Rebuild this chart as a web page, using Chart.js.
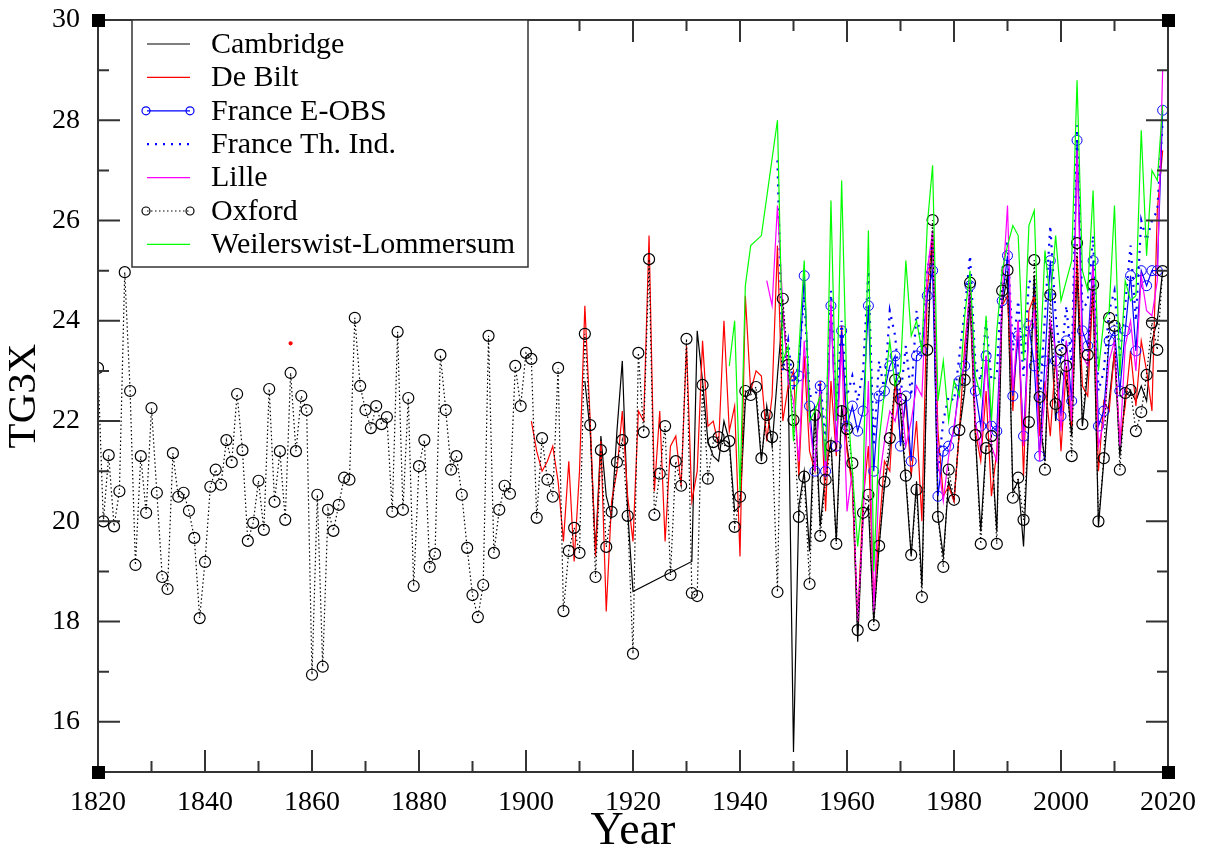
<!DOCTYPE html>
<html>
<head>
<meta charset="utf-8">
<script src="https://cdn.jsdelivr.net/npm/chart.js@4.4.1/dist/chart.umd.min.js"></script>
<style>
  html, body { margin: 0; padding: 0; background: #fff; }
</style>
</head>
<body>
<canvas id="tg3x" width="1205" height="855"></canvas>
<script>
// tick labels
const xTicks = [1820, 1840, 1860, 1880, 1900, 1920, 1940, 1960, 1980, 2000, 2020];
const yTicks = [16, 18, 20, 22, 24, 26, 28, 30];

// series, one value per year from the start year (null = missing)
const oxfordStart = 1820;
const oxford = [
  23.06, 20.0, 21.32, 19.9, 20.6, 24.97, 22.6, 19.13, 21.3, 20.17,
  22.26, 20.57, 18.89, 18.65, 21.36, 20.49, 20.57, 20.21, 19.67, 18.07,
  19.19, 20.69, 21.03, 20.73, 21.62, 21.18, 22.54, 21.42, 19.61, 19.97,
  20.81, 19.83, 22.64, 20.39, 21.4, 20.03, 22.96, 21.4, 22.5, 22.22,
  16.94, 20.53, 17.1, 20.23, 19.81, 20.33, 20.87, 20.83, 24.06, 22.7,
  22.22, 21.86, 22.3, 21.94, 22.08, 20.19, 23.78, 20.23, 22.46, 18.71,
  21.1, 21.62, 19.09, 19.35, 23.32, 22.22, 21.03, 21.3, 20.53, 19.47,
  18.53, 18.09, 18.73, 23.7, 19.37, 20.23, 20.71, 20.55, 23.1, 22.3,
  23.36, 23.24, 20.07, 21.66, 20.83, 20.49, 23.06, 18.21, 19.41, 19.87,
  19.37, 23.74, 21.92, 18.89, 21.42, 19.49, 20.19, 21.18, 21.62, 20.11,
  17.36, 23.36, 21.78, 25.23, 20.13, 20.95, 21.9, 18.93, 21.2, 20.71,
  23.64, 18.57, 18.51, 22.72, 20.85, 21.58, 21.68, 21.5, 21.6, 19.89,
  20.49, 22.6, 22.52, 22.68, 21.26, 22.12, 21.68, 18.59, 24.44, 23.12,
  22.02, 20.09, 20.89, 18.75, 22.12, 19.71, 20.83, 21.5, 19.55, 22.2,
  21.84, 21.16, 17.83, 20.17, 20.53, 17.93, 19.51, 20.79, 21.66, 22.82,
  22.44, 20.91, 19.33, 20.63, 18.49, 23.42, 26.01, 20.09, 19.09, 21.03,
  20.43, 21.82, 22.82, 24.76, 21.72, 19.55, 21.46, 21.7, 19.55, 24.6,
  25.01, 20.47, 20.87, 20.03, 21.98, 25.21, 22.48, 21.03, 24.52, 22.34,
  23.42, 23.1, 21.3, 25.55, 21.94, 23.32, 24.72, 20.0, 21.26, 24.06,
  23.9, 21.03, 22.56, 22.62, 21.8, 22.18, 22.92, 23.96, 23.42, 24.99
];

const cambridgeStart = 1911;
const cambridge = [
  22.8, 21.8, 19.4, 21.7, 20.5, 20.1, 21.8, 23.2, 20.2,
  18.6, null, null, null, null, null, null, null, null, null, null,
  19.2, 23.8, 22.8, 21.6, 21.3, 21.2, 22.0, 21.6, 20.2,
  20.3, 22.4, 22.7, 22.5, 21.2, 22.3, 21.5, 22.9, 24.2, 22.9,
  15.4, 20.3, 21.0, 19.4, 22.3, 19.9, 21.0, 21.6, 19.6, 22.3,
  21.5, 20.8, 17.6, 20.1, 20.3, 18.0, 19.5, 20.7, 21.4, 22.8,
  22.2, 20.8, 19.3, 20.8, 18.7, 23.3, 25.8, 20.1, 19.3, 20.8,
  20.4, 21.8, 22.6, 24.4, 21.7, 19.8, 21.5, 21.5, 19.8, 24.3,
  24.9, 20.6, 20.8, 19.5, 22.0, 24.9, 22.0, 21.2, 24.0, 22.0,
  23.0, 22.8, 21.7, 25.0, 21.9, 23.0, 24.6, 19.9, 21.2, 22.4,
  23.4, 21.3, 22.5, 22.6, 22.4, 22.7, 22.4, 23.6, 24.0, 25.0
];

const deBiltLone = { year: 1856, value: 23.55 };
const deBiltStart = 1901;
const deBilt = [
  22.0, 21.4, 21.0, 21.2, 21.5, 20.8, 19.6, 21.2, 19.2,
  21.0, 24.3, 22.0, 19.3, 21.6, 18.2, 20.4, 21.0, 22.2, 20.5,
  19.6, 22.2, 22.0, 25.7, 20.6, 22.2, 19.6, 21.5, 21.7, 20.7,
  23.5, 20.4, 21.0, 23.6, 21.9, 22.0, 21.5, 24.0, 21.8, 22.3,
  19.3, 24.5, 22.6, 23.0, 22.9, 21.6, 22.5, 25.5, 22.0, 22.7,
  23.0, 20.9, 23.3, 21.4, 21.0, 22.8, 20.2, 22.8, 21.3, 23.9,
  21.4, 20.7, 18.0, 20.4, 21.5, 18.4, 19.8, 21.2, 21.0, 22.8,
  21.6, 22.4, 20.9, 22.0, 20.0, 24.6, 25.7, 21.8, 20.5, 20.7,
  20.4, 21.8, 23.5, 24.6, 21.8, 21.2, 22.6, 20.5, 21.4, 24.3,
  24.5, 22.2, 24.0, 20.9, 24.2, 24.5, 21.7, 22.8, 21.7, 23.3,
  21.4, 23.1, 21.9, 25.3, 22.7, 22.5, 24.7, 21.0, 22.4, 22.2,
  23.4, 21.6, 22.3, 23.4, 22.3, 23.6, 23.0, 22.2, 26.2, 27.4
];

const eobsStart = 1950;
const eobs = [
  22.8, 22.9, 24.9, 22.3, 21.0, 22.7, 21.0, 24.3, 21.5, 23.8,
  21.9, 22.3, 21.8, 22.2, 24.3, 21.0, 22.5, 22.6, 23.1, 23.3,
  21.5, 22.5, 21.2, 23.3, 23.4, 24.5, 25.0, 20.5, 21.4, 21.5,
  21.8, 22.8, 23.1, 24.7, 22.6, 21.9, 23.3, 21.9, 21.8, 24.4,
  25.3, 22.5, 23.7, 21.7, 23.9, 23.1, 21.3, 23.2, 25.2, 23.2,
  22.1, 23.6, 22.4, 27.6, 23.8, 23.5, 25.2, 21.9, 22.2, 23.6,
  23.8, 22.6, 23.8, 24.9, 23.4, 25.0, 24.7, 25.0, 25.0, 28.2
];

const thIndStart = 1947;
const thInd = [
  27.2, 23.0, 23.6,
  22.6, 23.2, 24.5, 22.5, 22.5, 22.8, 21.6, 24.6, 22.3, 24.0,
  22.5, 22.9, 22.4, 23.0, 25.0, 21.5, 23.2, 22.6, 24.2, 23.7,
  22.5, 23.5, 22.5, 24.2, 23.4, 25.0, 25.6, 21.0, 22.0, 22.5,
  22.4, 23.3, 24.2, 25.3, 23.1, 22.8, 24.0, 22.8, 22.9, 25.0,
  25.6, 23.4, 24.4, 22.9, 24.8, 24.7, 22.3, 24.1, 25.9, 24.1,
  23.2, 24.3, 23.1, 27.9, 24.2, 24.4, 25.7, 22.6, 23.0, 24.2,
  24.6, 23.3, 24.3, 25.5, 24.0, 26.0, 25.6, 26.0, 26.2, 28.0
];

const lilleStart = 1945;
const lille = [
  24.8, 24.3, 26.3, 24.3, 22.8,
  22.4, 21.2, 23.6, 22.0, 21.0, 22.6, 20.9, 24.4, 21.4, 23.5,
  20.2, 21.0, 18.0, 20.0, 22.8, 18.2, 20.8, 21.6, 22.2, 22.0,
  22.6, 21.5, 22.0, 22.7, 22.5, 25.0, 25.8, 21.2, 20.4, 21.3,
  21.9, 22.6, 23.2, 24.8, 22.0, 21.4, 23.3, 21.5, 21.2, 24.5,
  26.3, 22.6, 24.0, 21.5, 23.8, 24.2, 21.2, 22.5, 24.0, 23.4,
  21.8, 23.6, 22.0, 27.4, 23.3, 23.1, 25.1, 21.5, 22.0, 23.2,
  23.6, 21.5, 23.5, 24.0, 23.0, 24.9, 24.2, 24.1, 24.8, 29.0
];

const weilerStart = 1938;
const weiler = [
  23.1, 24.0, 20.6, 24.7, 25.5, null, 25.7, null, null, 28.0, 23.2, 23.5,
  21.6, 23.4, 25.2, 22.0, 22.2, 22.5, 21.2, 26.4, 22.0, 26.8,
  22.5, 21.0, 19.5, 20.6, 25.8, 19.0, 21.6, 22.6, 23.6, 22.7,
  23.0, 25.2, 23.7, 24.0, 23.4, 25.9, 27.1, 22.4, 23.2, 22.0,
  22.8, 22.5, 24.1, 25.0, 22.9, 22.5, 24.1, 22.0, 23.8, 25.0,
  25.5, 25.9, 25.7, 23.2, 25.9, 26.2, 23.0, 25.4, 24.4, 25.7,
  24.4, 24.8, 25.2, 28.8, 25.0, 24.6, 26.6, 23.0, 24.0, 24.2,
  26.3, 22.9, 24.8, 24.4, 24.5, 27.8, 25.3, 27.0, 26.8, 28.3
];

function pts(start, values) {
  return values.map((v, i) => ({ x: start + i, y: v }));
}

const deBiltPts = [{ x: deBiltLone.year, y: deBiltLone.value }, { x: deBiltLone.year + 1, y: null }]
  .concat(pts(deBiltStart, deBilt));

const serif = '"Liberation Serif", "Times New Roman", serif';

const legendItems = [
  { label: 'Cambridge', color: '#000', dash: [], width: 1.2, circle: false },
  { label: 'De Bilt', color: '#ff0000', dash: [], width: 1.2, circle: false },
  { label: 'France E-OBS', color: '#0000ff', dash: [], width: 1.2, circle: true },
  { label: 'France Th. Ind.', color: '#0000ff', dash: [2, 6], width: 2.2, circle: false },
  { label: 'Lille', color: '#ff00ff', dash: [], width: 1.2, circle: false },
  { label: 'Oxford', color: '#000', dash: [1.5, 2.5], width: 1.2, circle: true },
  { label: 'Weilerswist-Lommersum', color: '#00ff00', dash: [], width: 1.2, circle: false },
];

// frame with inward ticks, corner squares and the boxed legend
const gracePlot = {
  id: 'gracePlot',
  afterDraw(chart) {
    const { ctx, chartArea: a, scales } = chart;
    const xs = scales.x, ys = scales.y;
    ctx.save();
    ctx.strokeStyle = '#333';
    ctx.lineWidth = 2;
    ctx.strokeRect(a.left, a.top, a.right - a.left, a.bottom - a.top);

    ctx.beginPath();
    for (let yr = 1820; yr <= 2020; yr += 10) {
      const px = xs.getPixelForValue(yr);
      const len = yr % 20 === 0 ? 22 : 11;
      ctx.moveTo(px, a.bottom); ctx.lineTo(px, a.bottom - len);
      ctx.moveTo(px, a.top); ctx.lineTo(px, a.top + len);
    }
    for (let v = 15; v <= 30; v += 1) {
      const py = ys.getPixelForValue(v);
      const len = v % 2 === 0 ? 22 : 11;
      ctx.moveTo(a.left, py); ctx.lineTo(a.left + len, py);
      ctx.moveTo(a.right, py); ctx.lineTo(a.right - len, py);
    }
    ctx.stroke();

    ctx.fillStyle = '#000';
    [[a.left, a.top], [a.right, a.top], [a.left, a.bottom], [a.right, a.bottom]].forEach(([cx, cy]) => {
      ctx.fillRect(cx - 6, cy - 6, 13, 13);
    });

    // legend
    const bx = 132, by = a.top, bw = 396, bh = 247;
    ctx.fillStyle = '#fff';
    ctx.fillRect(bx, by, bw, bh);
    ctx.strokeStyle = '#333';
    ctx.lineWidth = 1.5;
    ctx.strokeRect(bx, by, bw, bh);
    ctx.font = '30px ' + serif;
    ctx.textBaseline = 'middle';
    legendItems.forEach((it, i) => {
      const ly = by + 24 + i * 33.4;
      ctx.strokeStyle = it.color;
      ctx.lineWidth = it.width;
      ctx.setLineDash(it.dash);
      ctx.beginPath();
      ctx.moveTo(147, ly); ctx.lineTo(190, ly);
      ctx.stroke();
      ctx.setLineDash([]);
      if (it.circle) {
        ctx.lineWidth = 1.2;
        [146, 190].forEach(cx => {
          ctx.beginPath();
          ctx.arc(cx, ly, 4, 0, Math.PI * 2);
          ctx.stroke();
        });
      }
      ctx.fillStyle = '#000';
      ctx.fillText(it.label, 211, ly + 1);
    });
    ctx.restore();
  }
};

function lineSet(label, data, color, extra) {
  return Object.assign({
    label, data,
    borderColor: color,
    backgroundColor: color,
    borderWidth: 1.2,
    pointRadius: 0,
    tension: 0,
    spanGaps: false,
  }, extra);
}

const datasets = [
  lineSet('Cambridge', pts(cambridgeStart, cambridge), '#000', { spanGaps: true, order: 7 }),
  lineSet('De Bilt', deBiltPts, '#ff0000', {
    order: 6,
    pointRadius: c => (c.raw && c.raw.x === deBiltLone.year ? 1.5 : 0),
  }),
  lineSet('France E-OBS', pts(eobsStart, eobs), '#0000ff', {
    order: 5, pointRadius: 5, pointBorderWidth: 1,
    pointBackgroundColor: 'rgba(0,0,0,0)', pointBorderColor: '#0000ff',
  }),
  lineSet('France Th. Ind.', pts(thIndStart, thInd), '#0000ff', {
    order: 4, borderWidth: 2.2, borderDash: [2, 6],
  }),
  lineSet('Lille', pts(lilleStart, lille), '#ff00ff', { order: 3 }),
  lineSet('Oxford', pts(oxfordStart, oxford), '#000', {
    order: 2, borderWidth: 1.2, borderDash: [1.5, 2.5],
    pointRadius: 5.5, pointBorderWidth: 1.2,
    pointBackgroundColor: 'rgba(0,0,0,0)', pointBorderColor: '#000',
  }),
  lineSet('Weilerswist-Lommersum', pts(weilerStart, weiler), '#00ff00', { spanGaps: true, order: 1 }),
];

new Chart(document.getElementById('tg3x'), {
  type: 'line',
  data: { datasets },
  plugins: [gracePlot],
  options: {
    responsive: false,
    animation: false,
    layout: { padding: { top: 20, right: 37, left: 0, bottom: 0 } },
    plugins: { legend: { display: false }, tooltip: { enabled: false } },
    scales: {
      x: {
        type: 'linear',
        min: 1820, max: 2020,
        afterBuildTicks: s => { s.ticks = xTicks.map(v => ({ value: v })); },
        afterFit: s => { s.height = 83; },
        grid: { display: false },
        border: { display: false },
        ticks: {
          font: { family: serif, size: 28 }, color: '#000', padding: 6, maxRotation: 0,
          callback: v => String(v),
        },
        title: { display: true, text: 'Year', color: '#000', font: { family: serif, size: 46, lineHeight: 1 }, padding: { top: 0, bottom: 0 } },
      },
      y: {
        min: 15, max: 30,
        afterBuildTicks: s => { s.ticks = yTicks.map(v => ({ value: v })); },
        afterFit: s => { s.width = 98; s.paddingTop = 0; s.paddingBottom = 0; },
        grid: { display: false },
        border: { display: false },
        ticks: { font: { family: serif, size: 28 }, color: '#000', padding: 10 },
        title: { display: true, text: 'TG3X', color: '#000', font: { family: serif, size: 41, lineHeight: 1 }, padding: { top: 4, bottom: 0 } },
      },
    },
  },
});
</script>
</body>
</html>
